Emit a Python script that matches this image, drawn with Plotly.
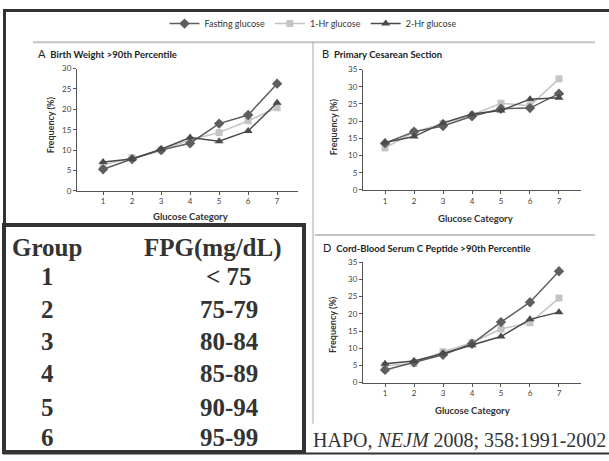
import plotly.graph_objects as go

W, H = 609, 461

# ---------------- data ----------------
categories = [1, 2, 3, 4, 5, 6, 7]
series_names = ["Fasting glucose", "1-Hr glucose", "2-Hr glucose"]

A_fasting = [5.3, 7.8, 10.0, 11.7, 16.5, 18.6, 26.3]
A_1hr = [6.4, 8.1, 10.0, 12.5, 14.3, 17.2, 20.4]
A_2hr = [7.1, 7.8, 10.2, 13.1, 12.2, 14.7, 21.6]

B_fasting = [13.6, 16.9, 18.6, 21.4, 23.6, 23.8, 28.0]
B_1hr = [12.2, 16.8, 19.3, 21.8, 25.2, 24.5, 32.3]
B_2hr = [13.8, 15.5, 19.5, 22.1, 23.1, 26.4, 26.8]

D_fasting = [3.7, 5.9, 8.1, 11.3, 17.6, 23.4, 32.4]
D_1hr = [4.9, 5.6, 9.0, 11.6, 15.6, 17.4, 24.6]
D_2hr = [5.5, 6.3, 8.5, 10.9, 13.4, 18.4, 20.5]

panel_titles = ["Birth Weight >90th Percentile", "Primary Cesarean Section",
                "Cord-Blood Serum C Peptide >90th Percentile"]
panel_letters = ["A", "B", "D"]

table_header = ["Group", "FPG(mg/dL)"]
table_groups = ["1", "2", "3", "4", "5", "6"]
table_fpg = ["< 75", "75-79", "80-84", "85-89", "90-94", "95-99"]

citation = "HAPO, <i>NEJM</i> 2008; 358:1991-2002"


def fx(px):
    return px / W


def fy(py):
    return 1 - py / H


colors = ["#5e5e5e", "#c4c4c4", "#4a4a4a"]
symbols = ["diamond", "square", "triangle-up"]
msizes = [8, 7, 8]

fig = go.Figure()

panels = [
    ("x", "y", [A_fasting, A_1hr, A_2hr]),
    ("x2", "y2", [B_fasting, B_1hr, B_2hr]),
    ("x3", "y3", [D_fasting, D_1hr, D_2hr]),
]

for pi, (xa, ya, data) in enumerate(panels):
    for si in [1, 0, 2]:
        fig.add_trace(go.Scatter(
            x=categories, y=data[si], xaxis=xa, yaxis=ya,
            mode="lines+markers", name=series_names[si],
            legendgroup=series_names[si], showlegend=(pi == 0),
            legendrank=si + 1,
            line=dict(color=colors[si], width=1.5),
            marker=dict(symbol=symbols[si], size=msizes[si], color=colors[si]),
            cliponaxis=False,
        ))

axis_common = dict(showgrid=False, zeroline=False, showline=True, linecolor="#555",
                   linewidth=1, ticks="outside", ticklen=3, tickcolor="#555",
                   tickfont=dict(family="Lato", size=8, color="#444"), fixedrange=True)

layout_axes = {
    "xaxis": dict(domain=[fx(77), fx(298)], anchor="y", range=[0.1, 7.72],
                  tickvals=categories, **axis_common),
    "yaxis": dict(domain=[fy(190), fy(65)], anchor="x", range=[0, 30],
                  tickvals=[0, 5, 10, 15, 20, 25, 30], **axis_common),
    "xaxis2": dict(domain=[fx(363), fx(581)], anchor="y2", range=[0.24, 7.76],
                   tickvals=categories, **axis_common),
    "yaxis2": dict(domain=[fy(189), fy(66)], anchor="x2", range=[0, 35],
                   tickvals=[0, 5, 10, 15, 20, 25, 30, 35], **axis_common),
    "xaxis3": dict(domain=[fx(363), fx(581)], anchor="y3", range=[0.24, 7.76],
                   tickvals=categories, **axis_common),
    "yaxis3": dict(domain=[fy(386), fy(263)], anchor="x3", range=[0, 35],
                   tickvals=[0, 5, 10, 15, 20, 25, 30, 35], **axis_common),
}

annotations = []
# panel titles
title_pos = [(36, 50), (320, 50), (321, 248)]
for (px, py), letter, title in zip(title_pos, panel_letters, panel_titles):
    annotations.append(dict(
        x=fx(px), y=fy(py), xref="paper", yref="paper", xanchor="left", yanchor="middle",
        text=f"<span style='font-size:11px'>{letter}</span>  <b>{title}</b>",
        showarrow=False, font=dict(family="Lato", size=9.5, color="#222")))

# axis titles
for (px, py) in [(190, 216), (475, 218), (472, 414)]:
    annotations.append(dict(
        x=fx(px), y=fy(py), xref="paper", yref="paper", xanchor="center", yanchor="middle",
        text="<b>Glucose Category</b>", showarrow=False,
        font=dict(family="Lato", size=9.5, color="#333")))
for (px, py) in [(50, 123), (333, 125), (333, 327)]:
    annotations.append(dict(
        x=fx(px), y=fy(py), xref="paper", yref="paper", xanchor="center", yanchor="middle",
        text="<b>Frequency (%)</b>", showarrow=False, textangle=-90,
        font=dict(family="Lato", size=9, color="#333")))

# table
tfont = dict(family="Liberation Serif", size=25, color="#333")
row_y = [248, 278, 311, 344, 377, 411, 442]
annotations.append(dict(x=fx(47), y=fy(row_y[0]), xref="paper", yref="paper",
                        xanchor="center", yanchor="middle", showarrow=False,
                        text=f"<b>{table_header[0]}</b>", font=tfont))
annotations.append(dict(x=fx(213), y=fy(row_y[0]), xref="paper", yref="paper",
                        xanchor="center", yanchor="middle", showarrow=False,
                        text=f"<b>{table_header[1]}</b>", font=tfont))
for g, v, ry in zip(table_groups, table_fpg, row_y[1:]):
    annotations.append(dict(x=fx(47), y=fy(ry), xref="paper", yref="paper",
                            xanchor="center", yanchor="middle", showarrow=False,
                            text=f"<b>{g}</b>", font=tfont))
    annotations.append(dict(x=fx(229), y=fy(ry), xref="paper", yref="paper",
                            xanchor="center", yanchor="middle", showarrow=False,
                            text=f"<b>{v.replace('<', '&lt;')}</b>", font=tfont))

# citation
annotations.append(dict(x=fx(311), y=fy(445), xref="paper", yref="paper",
                        xanchor="left", yanchor="middle", showarrow=False,
                        text=citation,
                        font=dict(family="Liberation Serif", size=20, color="#333")))

shapes = [
    # outer frame
    dict(type="line", xref="paper", yref="paper", x0=fx(3), x1=1, y0=fy(5.5), y1=fy(5.5),
         line=dict(color="#333", width=3)),
    dict(type="line", xref="paper", yref="paper", x0=fx(4.5), x1=fx(4.5), y0=fy(4), y1=fy(459),
         line=dict(color="#333", width=3)),
    dict(type="line", xref="paper", yref="paper", x0=fx(3), x1=1, y0=fy(458.5), y1=fy(458.5),
         line=dict(color="#333", width=2)),
    # gray rules
    dict(type="line", xref="paper", yref="paper", x0=fx(33), x1=fx(595), y0=fy(38), y1=fy(38),
         line=dict(color="#c4c4c4", width=2)),
    dict(type="line", xref="paper", yref="paper", x0=fx(313), x1=fx(313), y0=fy(38), y1=fy(428),
         line=dict(color="#a8a8a8", width=1)),
    dict(type="line", xref="paper", yref="paper", x0=fx(315), x1=fx(595), y0=fy(235), y1=fy(235),
         line=dict(color="#c4c4c4", width=2)),
    # table box
    dict(type="rect", xref="paper", yref="paper", x0=fx(4), x1=fx(304), y0=fy(225), y1=fy(457),
         line=dict(color="#333", width=4), fillcolor="white", layer="above"),
]

fig.update_layout(
    width=W, height=H, margin=dict(l=0, r=0, t=0, b=0),
    paper_bgcolor="white", plot_bgcolor="white",
    showlegend=True,
    legend=dict(orientation="h", x=fx(313), xanchor="center", y=fy(19), yanchor="middle",
                font=dict(family="Lato", size=9, color="#333"), bgcolor="rgba(0,0,0,0)",
                itemclick=False, itemdoubleclick=False),
    annotations=annotations, shapes=shapes,
    **layout_axes,
)

fig.write_html("out.html", config={"displayModeBar": False},
               post_script="document.body.style.margin='0';document.body.style.overflow='hidden';")
